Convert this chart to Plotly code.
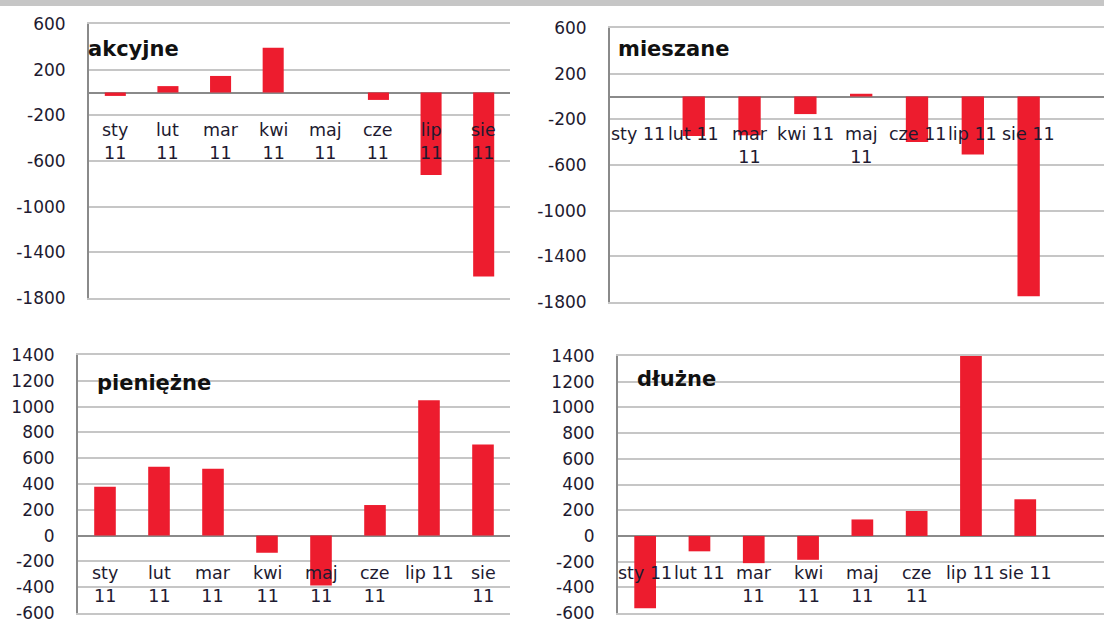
import plotly.graph_objects as go

# ---- data ----
categories = ["sty 11", "lut 11", "mar 11", "kwi 11", "maj 11", "cze 11", "lip 11", "sie 11"]

akcyjne = [-30, 56, 145, 393, 0, -65, -722, -1611]
mieszane = [0, -346, -340, -154, 24, -399, -508, -1750]
pieniezne = [378, 534, 519, -133, -386, 237, 1050, 706]
dluzne = [-563, -120, -212, -186, 128, 194, 1400, 285]

labels_akcyjne = ["sty<br>11", "lut<br>11", "mar<br>11", "kwi<br>11", "maj<br>11", "cze<br>11", "lip<br>11", "sie<br>11"]
labels_mieszane = ["sty 11", "lut 11", "mar<br>11", "kwi 11", "maj<br>11", "cze 11", "lip 11", "sie 11"]
labels_pieniezne = ["sty<br>11", "lut<br>11", "mar<br>11", "kwi<br>11", "maj<br>11", "cze<br>11", "lip 11", "sie<br>11"]
labels_dluzne = ["sty 11", "lut 11", "mar<br>11", "kwi<br>11", "maj<br>11", "cze<br>11", "lip 11", "sie 11"]

titles = ["akcyjne", "mieszane", "pieniężne", "dłużne"]

ticks_top = [-1800, -1400, -1000, -600, -200, 200, 600]
ticks_bottom = [-600, -400, -200, 0, 200, 400, 600, 800, 1000, 1200, 1400]

# ---- style ----
W, H = 1104, 619
RED = "#ED1C2E"
GRID = "#C6C6C6"
AXIS = "#8A8A8A"
TXT = "#1E1A30"
FONT = "DejaVu Sans"

panels = [
    dict(v=akcyjne, lab=labels_akcyjne, xd=(89, 510), yd=(24, 298), yr=(-1800, 600), tk=ticks_top, xr=(-0.5, 7.5), tp=(86, 49)),
    dict(v=mieszane, lab=labels_mieszane, xd=(610, 1104), yd=(28, 302), yr=(-1800, 600), tk=ticks_top, xr=(-0.5, 8.35), tp=(616, 49)),
    dict(v=pieniezne, lab=labels_pieniezne, xd=(78, 510), yd=(355, 613), yr=(-600, 1400), tk=ticks_bottom, xr=(-0.5, 7.5), tp=(95, 383)),
    dict(v=dluzne, lab=labels_dluzne, xd=(618, 1104), yd=(356, 613), yr=(-600, 1400), tk=ticks_bottom, xr=(-0.5, 8.45), tp=(635, 379)),
]

fig = go.Figure()
annotations = []
layout = {}

for i, p in enumerate(panels):
    n = "" if i == 0 else str(i + 1)
    xa, ya = "x" + n, "y" + n
    idx = list(range(len(categories)))
    fig.add_trace(go.Bar(
        x=idx, y=p["v"], xaxis=xa, yaxis=ya,
        marker=dict(color=RED, line=dict(width=0)),
        width=0.4, showlegend=False, hoverinfo="skip",
    ))
    layout["xaxis" + n] = dict(
        domain=[p["xd"][0] / W, p["xd"][1] / W],
        range=list(p["xr"]), anchor=ya, automargin=False,
        showgrid=False, zeroline=False,
        showline=True, mirror=True, linecolor=GRID, linewidth=2,
        showticklabels=False, ticks="", fixedrange=True,
    )
    layout["yaxis" + n] = dict(
        domain=[1 - p["yd"][1] / H, 1 - p["yd"][0] / H],
        range=list(p["yr"]), anchor=xa, automargin=False,
        tickmode="array", tickvals=p["tk"], ticktext=[str(t) for t in p["tk"]],
        showgrid=True, gridcolor=GRID, gridwidth=2,
        zeroline=True, zerolinecolor=AXIS, zerolinewidth=2,
        showline=True, linecolor=AXIS, linewidth=2,
        ticks="", ticklabelstandoff=18, ticklabeloverflow="allow",
        tickfont=dict(family=FONT, size=17, color=TXT),
        fixedrange=True,
    )
    for j, lab in enumerate(p["lab"]):
        annotations.append(dict(
            x=j, y=0, xref=xa, yref=ya, text=lab, showarrow=False,
            xanchor="center", yanchor="top", yshift=-25, align="center",
            font=dict(family=FONT, size=17.5, color=TXT),
        ))
    annotations.append(dict(
        x=p["tp"][0] / W, y=1 - p["tp"][1] / H, xref="paper", yref="paper",
        text="<b>" + titles[i] + "</b>", showarrow=False,
        xanchor="left", yanchor="middle",
        font=dict(family=FONT, size=21, color="#111111"),
    ))

fig.update_layout(
    width=W, height=H,
    margin=dict(l=0, r=0, t=0, b=0, autoexpand=False),
    paper_bgcolor="white", plot_bgcolor="white",
    annotations=annotations,
    shapes=[dict(type="rect", xref="paper", yref="paper", x0=0, x1=1, y0=1 - 6 / H, y1=1,
                 fillcolor="#C6C6C6", line=dict(width=0), layer="above")],
    **layout,
)

fig.write_html(
    "out.html",
    config={"displayModeBar": False},
    post_script="document.body.style.margin='0';document.body.style.overflow='hidden';",
)
